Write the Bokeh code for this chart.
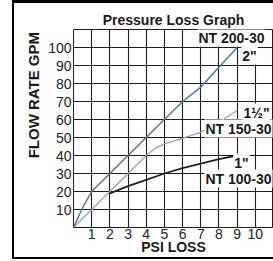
import math
from bokeh.plotting import figure
from bokeh.models import FixedTicker, Label, Range1d
from bokeh.embed import file_html
from bokeh.resources import INLINE

# ---- data ----
psi_2in = [0, 0.5, 1, 2, 3, 4, 5, 6, 7, 8, 9]
gpm_2in = [0, 11, 20, 30, 40, 50, 60, 70, 78, 89, 100]

psi_1_5in = [0, 1, 2, 3, 4, 4.5, 5, 6, 7, 8, 9]
gpm_1_5in = [0, 10, 20, 30, 40, 44, 46.5, 49.5, 53, 58.5, 65]

psi_1in = [2, 3, 4, 5, 6, 7, 8, 9]
gpm_1in = [19, 23, 26.5, 30, 33, 35.5, 38, 40]

x_tick_values = [1, 2, 3, 4, 5, 6, 7, 8, 9, 10]
y_tick_values = [10, 20, 30, 40, 50, 60, 70, 80, 90, 100]
x_grid_values = list(range(0, 12))
y_grid_values = list(range(0, 111, 10))

title_text = "Pressure Loss Graph"
x_label = "PSI LOSS"
y_label = "FLOW RATE GPM"

FONT = "Liberation Sans"

p = figure(width=259, height=254, x_range=Range1d(0, 11), y_range=Range1d(0, 110),
           output_backend="svg", toolbar_location=None, title=title_text,
           min_border_left=59, min_border_right=0, min_border_top=26, min_border_bottom=30)
# outer frame of the chart card (drawn as shadows, so the layout size is unchanged)
p.styles = {"margin-left": "14px", "margin-top": "3px",
            "box-shadow": "-2px 0 0 0 #000, 0 -3px 0 0 #000, 0 2px 0 0 #000, "
                          "-2px -3px 0 0 #000, -2px 2px 0 0 #000"}
p.background_fill_color = "white"
p.border_fill_color = "white"
p.outline_line_color = "#1e1e1e"
p.outline_line_width = 1

p.title.align = "center"
p.title.text_font = FONT
p.title.text_font_size = "14px"
p.title.text_font_style = "bold"
p.title.text_color = "#1a1a1a"
p.title.standoff = 3

for ax, ticks in ((p.xaxis, x_tick_values), (p.yaxis, y_tick_values)):
    ax.ticker = FixedTicker(ticks=ticks)
    ax.major_tick_out = 0
    ax.major_tick_in = 0
    ax.minor_tick_out = 0
    ax.minor_tick_in = 0
    ax.axis_line_color = None
    ax.major_label_text_font = FONT
    ax.major_label_text_font_size = "14px"
    ax.major_label_text_color = "#222222"
    ax.axis_label_text_font = FONT
    ax.axis_label_text_font_style = "bold"
    ax.axis_label_text_color = "#1a1a1a"

p.xaxis.major_label_standoff = 1
p.yaxis.major_label_standoff = 2
p.xaxis.axis_label = x_label
p.xaxis.axis_label_text_font_size = "14px"
p.xaxis.axis_label_standoff = -3
p.yaxis.axis_label = "\u00a0" * 16 + y_label
p.yaxis.axis_label_text_font_size = "15px"
p.yaxis.axis_label_standoff = 3

p.xgrid.ticker = FixedTicker(ticks=x_grid_values)
p.ygrid.ticker = FixedTicker(ticks=y_grid_values)
for g in (p.xgrid, p.ygrid):
    g.grid_line_color = "#1e1e1e"
    g.grid_line_alpha = 1
    g.grid_line_width = 1.1

p.line(psi_1_5in, gpm_1_5in, line_color="#8ea5c6", line_width=1.3)
p.line(psi_2in, gpm_2in, line_color="#4f78a6", line_width=1.5)
p.line(psi_1in, gpm_1in, line_color="#222222", line_width=1.8)

# page-pixel helpers (frame spans x 73..273, y 29..227 on the page)
XPX = 200 / 11.0
YPX = 198 / 110.0

def dx(sx):
    return (sx - 73) / XPX

def dy(sy):
    return (227 - sy) / YPX

def add_label(text, sx, sy):
    lab = Label(x=dx(sx), y=dy(sy), text=text, text_align="center", text_baseline="middle",
                text_font=FONT, text_font_size="14px", text_font_style="bold",
                text_color="#1a1a1a", background_fill_color="white", padding=1)
    p.add_layout(lab)

add_label("NT 200-30", 231, 37)
add_label("2\"", 249, 55)
add_label("1\u00bd\"", 256, 112)
add_label("NT 150-30", 238, 128)
add_label("1\"", 241, 162)
add_label("NT 100-30", 238, 178)

open("out.html", "w").write(file_html(p, INLINE))
